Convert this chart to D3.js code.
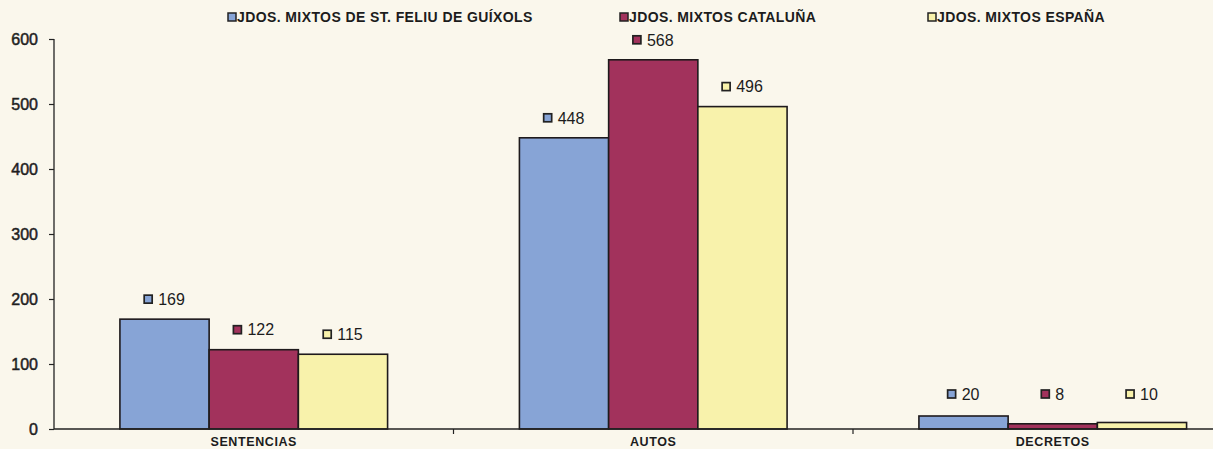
<!DOCTYPE html>
<html>
<head>
<meta charset="utf-8">
<script src="https://cdn.jsdelivr.net/npm/d3@7"></script>
<style>
  html, body { margin: 0; padding: 0; background: #faf7ec; }
  svg { display: block; }
  text { font-family: "Liberation Sans", Arial, sans-serif; fill: #1c1c1c; }
</style>
</head>
<body>
<svg id="chart" width="1213" height="449"></svg>
<script>
// Resoluciones por tipo y ámbito judicial
const categories = ["SENTENCIAS", "AUTOS", "DECRETOS"];
const seriesNames = [
  "JDOS. MIXTOS DE ST. FELIU DE GUÍXOLS",
  "JDOS. MIXTOS CATALUÑA",
  "JDOS. MIXTOS ESPAÑA"
];
const santFeliu = [169, 448, 20];
const cataluna = [122, 568, 8];
const espana = [115, 496, 10];
const yTicks = [0, 100, 200, 300, 400, 500, 600];

const seriesValues = [santFeliu, cataluna, espana];
const colors = ["#87a4d6", "#a2325c", "#f8f2ab"];

const svg = d3.select("#chart");
const W = 1213;
const axisX = 54;

const y = d3.scaleLinear().domain([0, 600]).range([429, 39]);

const x0 = d3.scaleBand()
  .domain(categories)
  .range([axisX, axisX + 3 * 399.5])
  .paddingInner(0.33)
  .paddingOuter(0.165);

const x1 = d3.scaleBand()
  .domain(d3.range(seriesNames.length))
  .range([0, x0.bandwidth()]);

// Y axis
const yAxis = d3.axisLeft(y).tickValues(yTicks).tickSize(5).tickPadding(11);
const gy = svg.append("g").attr("transform", `translate(${axisX},0)`).call(yAxis);
gy.select(".domain").attr("stroke", "#222").attr("stroke-width", 1.3).attr("d", `M0,${y(600)}V${y(0)}`);
gy.selectAll(".tick line").attr("stroke", "#222").attr("stroke-width", 1.2);
gy.selectAll(".tick text")
  .style("font-family", '"Liberation Sans", Arial, sans-serif')
  .style("font-size", "16px")
  .attr("fill", "#262626")
  .attr("stroke", "#262626")
  .attr("stroke-width", 0.5);

// Bars
const groups = svg.append("g").selectAll("g")
  .data(categories)
  .join("g")
  .attr("transform", d => `translate(${x0(d)},0)`);

groups.selectAll("rect")
  .data((c, ci) => seriesValues.map((vals, si) => ({ si, v: vals[ci] })))
  .join("rect")
  .attr("x", d => x1(d.si))
  .attr("width", x1.bandwidth())
  .attr("y", d => y(d.v))
  .attr("height", d => y(0) - y(d.v))
  .attr("fill", d => colors[d.si])
  .attr("stroke", "#1e1a1c")
  .attr("stroke-width", 1.6);

// Value labels: a small coloured key followed by the number
const labels = groups.selectAll("g.val")
  .data((c, ci) => seriesValues.map((vals, si) => ({ si, v: vals[ci] })))
  .join("g")
  .attr("class", "val")
  .attr("transform", d => {
    const cx = x1(d.si) + x1.bandwidth() / 2;
    const cy = Math.min(y(d.v) - 20, y(0) - 35);
    return `translate(${cx},${cy})`;
  });

labels.each(function(d) {
  const g = d3.select(this);
  const t = g.append("text")
    .attr("font-size", 16)
    .attr("dy", "0.36em")
    .text(d.v);
  const tw = t.node().getComputedTextLength();
  const gap = 6, box = 8;
  const total = box + gap + tw;
  g.append("rect")
    .attr("x", -total / 2)
    .attr("y", -box / 2)
    .attr("width", box)
    .attr("height", box)
    .attr("fill", colors[d.si])
    .attr("stroke", "#222")
    .attr("stroke-width", 1.7);
  t.attr("x", -total / 2 + box + gap);
});

// X axis
svg.append("line")
  .attr("x1", axisX).attr("x2", W)
  .attr("y1", y(0)).attr("y2", y(0))
  .attr("stroke", "#222").attr("stroke-width", 1.3);

const boundaries = categories.slice(1).map(c => x0(c) - x0.step() * x0.paddingInner() / 2);
svg.append("g").selectAll("line")
  .data(boundaries)
  .join("line")
  .attr("x1", d => d).attr("x2", d => d)
  .attr("y1", y(0)).attr("y2", y(0) + 5)
  .attr("stroke", "#222").attr("stroke-width", 1.2);

svg.append("g").selectAll("text")
  .data(categories)
  .join("text")
  .attr("x", d => x0(d) + x0.bandwidth() / 2)
  .attr("y", 446)
  .attr("text-anchor", "middle")
  .attr("font-size", 12.5)
  .attr("font-weight", "bold")
  .attr("letter-spacing", "0.6px")
  .text(d => d);

// Legend
const legendX = [228, 620, 928];
const legend = svg.append("g").selectAll("g")
  .data(seriesNames)
  .join("g")
  .attr("transform", (d, i) => `translate(${legendX[i]},17)`);

legend.append("rect")
  .attr("x", 0).attr("y", -4)
  .attr("width", 8).attr("height", 8)
  .attr("fill", (d, i) => colors[i])
  .attr("stroke", "#222")
  .attr("stroke-width", 1.5);

legend.append("text")
  .attr("x", 9)
  .attr("dy", "0.36em")
  .attr("font-size", 14)
  .attr("font-weight", "bold")
  .attr("letter-spacing", "0.4px")
  .text(d => d);
</script>
</body>
</html>
